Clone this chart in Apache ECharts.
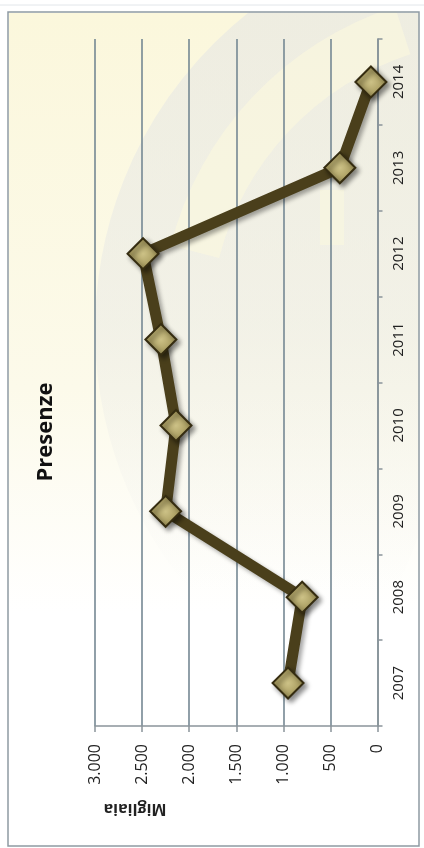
<!DOCTYPE html>
<html>
<head>
<meta charset="utf-8">
<script src="https://cdn.jsdelivr.net/npm/echarts@6/dist/echarts.min.js"></script>
<style>
html,body{margin:0;padding:0;background:#ffffff;}
#chart{width:424px;height:848px;}
</style>
</head>
<body>
<div id="chart"></div>
<script>
// Data (chart is drawn rotated: categories on the right, values along the bottom)
const years = ['2007', '2008', '2009', '2010', '2011', '2012', '2013', '2014'];
const presenze = [950, 800, 2250, 2140, 2300, 2490, 400, 70];
const valueTicks = [0, 500, 1000, 1500, 2000, 2500, 3000];
const titleText = 'Presenze';
const unitText = 'Migliaia';

function fmtThousands(v) {
  return String(v).replace(/\B(?=(\d{3})+(?!\d))/g, '.');
}

const chart = echarts.init(document.getElementById('chart'), null, {renderer: 'canvas'});

const option = {
  backgroundColor: '#ffffff',
  animation: false,
  grid: {left: 95, right: 46.5, top: 39, bottom: 122, containLabel: false},
  xAxis: {
    type: 'value',
    min: valueTicks[0],
    max: valueTicks[valueTicks.length - 1],
    interval: 500,
    inverse: true,
    position: 'bottom',
    axisLine: {show: true, lineStyle: {color: '#8a949a', width: 1.5}},
    axisTick: {show: true, length: 6, lineStyle: {color: '#8a949a', width: 1.5}},
    axisLabel: {
      rotate: 90, margin: 18, fontSize: 16, color: '#222',
      fontFamily: 'Open Sans',
      formatter: fmtThousands
    },
    splitLine: {show: true, lineStyle: {color: '#758893', width: 1.6}}
  },
  yAxis: {
    type: 'category',
    data: years,
    position: 'right',
    boundaryGap: true,
    axisLine: {show: true, onZero: false, lineStyle: {color: '#8a949a', width: 1.5}},
    axisTick: {show: true, length: 5, alignWithLabel: false, lineStyle: {color: '#8a949a', width: 1.5}},
    axisLabel: {rotate: 90, margin: 14, fontSize: 15, color: '#222', fontFamily: 'Open Sans'},
    splitLine: {show: false}
  },
  graphic: [
    {type: 'rect', z: -20, silent: true, shape: {x: 9, y: 13, width: 410, height: 833},
      style: {fill: {type: 'linear', x: 0, y: 0, x2: 0, y2: 1, colorStops: [
        {offset: 0, color: '#fbf7dc'}, {offset: 0.45, color: '#fcfaea'}, {offset: 0.72, color: '#ffffff'}, {offset: 1, color: '#ffffff'}]}}},
    {type: 'sector', z: -19, silent: true,
      shape: {cx: 500, cy: 330, r0: 0, r: 405, startAngle: Math.PI * 0.62, endAngle: Math.PI * 1.42, clockwise: true},
      style: {fill: {type: 'linear', x: 0, y: 0, x2: 0, y2: 1, colorStops: [
        {offset: 0, color: 'rgba(228,229,228,0.6)'}, {offset: 0.5, color: 'rgba(230,231,230,0.45)'}, {offset: 0.85, color: 'rgba(235,236,235,0)'}]}}},
    {type: 'sector', z: -18, silent: true,
      shape: {cx: 500, cy: 330, r0: 290, r: 340, startAngle: Math.PI * 1.08, endAngle: Math.PI * 1.40, clockwise: true},
      style: {fill: 'rgba(252,249,222,0.6)'}},
    {type: 'rect', z: -17, silent: true, shape: {x: 320, y: 190, width: 24, height: 55},
      style: {fill: 'rgba(252,249,222,0.5)'}},
    {type: 'rect', z: -16, silent: true, shape: {x: 0, y: 0, width: 424, height: 11.5},
      style: {fill: '#ffffff'}},
    {type: 'rect', z: -16, silent: true, shape: {x: 419.5, y: 0, width: 5, height: 848},
      style: {fill: '#ffffff'}},
    {type: 'rect', z: -15, silent: true, shape: {x: 8, y: 12, width: 411, height: 834},
      style: {fill: 'none', stroke: '#8e9aa3', lineWidth: 1.5}},
    {type: 'line', z: -15, silent: true, shape: {x1: 0, y1: 5, x2: 424, y2: 5},
      style: {stroke: '#e2e6ea', lineWidth: 1}},
    {type: 'text', x: 46, y: 432, rotation: Math.PI / 2, z: 10,
      style: {text: titleText, fontSize: 22, fontWeight: 'bold', fontFamily: 'Open Sans', fill: '#111',
        textAlign: 'center', textVerticalAlign: 'middle', verticalAlign: 'middle'}},
    {type: 'text', x: 135, y: 809, rotation: Math.PI, z: 10,
      style: {text: unitText, fontSize: 16, fontWeight: 'bold', fontFamily: 'Open Sans', fill: '#222',
        textAlign: 'center', textVerticalAlign: 'middle', verticalAlign: 'middle'}}
  ],
  series: [{
    type: 'line',
    data: presenze,
    symbol: 'diamond',
    symbolSize: 31,
    z: 5,
    lineStyle: {color: '#4a3f1b', width: 11, join: 'miter',
      shadowColor: 'rgba(0,0,0,0.35)', shadowBlur: 4, shadowOffsetX: 3, shadowOffsetY: 3},
    itemStyle: {
      color: {type: 'radial', x: 0.5, y: 0.5, r: 0.55, colorStops: [
        {offset: 0, color: '#cdc287'}, {offset: 1, color: '#988b4e'}]},
      borderColor: '#352c10', borderWidth: 2,
      shadowColor: 'rgba(0,0,0,0.45)', shadowBlur: 5, shadowOffsetX: 3, shadowOffsetY: 3
    },
    emphasis: {disabled: true}
  }]
};

chart.setOption(option);
</script>
</body>
</html>
